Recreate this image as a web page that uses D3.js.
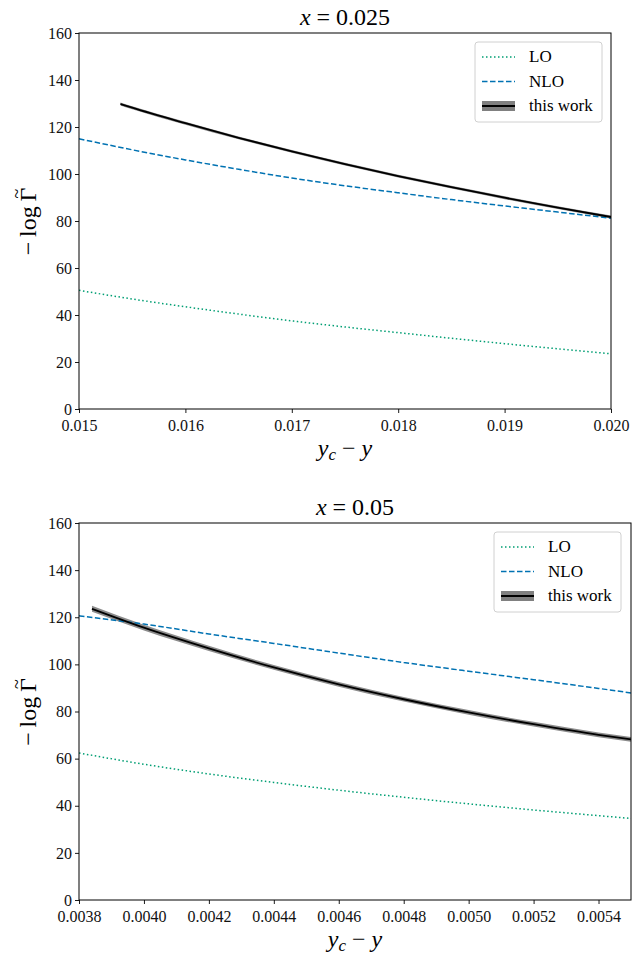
<!DOCTYPE html>
<html><head><meta charset="utf-8">
<script src="https://cdn.jsdelivr.net/npm/d3@7"></script>
<style>body{margin:0;background:#fff} svg text{font-family:"Liberation Serif" !important;}</style>
</head><body><svg id="c" width="632" height="954"></svg>
<script>
// ---- data ----
const titles = ["0.025", "0.05"];
const yTicks = [0, 20, 40, 60, 80, 100, 120, 140, 160];
const xTicksTop = [0.015, 0.016, 0.017, 0.018, 0.019, 0.020];
const xTicksBot = [0.0038, 0.0040, 0.0042, 0.0044, 0.0046, 0.0048, 0.0050, 0.0052, 0.0054];

const topX = [0.015, 0.0155, 0.016, 0.0165, 0.017, 0.0175, 0.018, 0.0185, 0.019, 0.0195, 0.020];
const topLO = [50.5, 46.8, 43.5, 40.4, 37.5, 34.9, 32.5, 30.1, 27.8, 25.6, 23.5];
const topNLO = [115, 110.3, 106, 102, 98.3, 95, 92, 89.1, 86.4, 83.8, 81.2];
const topWorkX = [0.01539, 0.0155, 0.016, 0.0165, 0.017, 0.0175, 0.018, 0.0185, 0.019, 0.0195, 0.020];
const topWork = [129.8, 128.2, 121.6, 115.4, 109.6, 104.2, 99.1, 94.4, 89.9, 85.7, 81.7];
const topWorkErr = [0.6, 0.6, 0.6, 0.6, 0.6, 0.6, 0.6, 0.6, 0.6, 0.6, 0.6];

const botX = [0.0038, 0.0040, 0.0042, 0.0044, 0.0046, 0.0048, 0.0050, 0.0052, 0.0054, 0.0055];
const botLO = [62.4, 57.6, 53.5, 49.9, 46.6, 43.6, 40.8, 38.2, 35.8, 34.6];
const botNLO = [120.6, 117.1, 112.9, 108.9, 104.8, 100.8, 97.1, 93.5, 89.8, 87.9];
const botWorkX = [0.00384, 0.0040, 0.0042, 0.0044, 0.0046, 0.0048, 0.0050, 0.0052, 0.0054, 0.0055];
const botWork = [123.6, 115.6, 106.8, 98.7, 91.5, 85.2, 79.6, 74.6, 70.1, 68.2];
const botWorkErr = [1.3, 1.2, 1.1, 1.0, 1.0, 1.0, 1.0, 1.0, 1.0, 1.0];

const seriesNames = ["LO", "NLO", "this work"];
const colLO = "#009E73", colNLO = "#0072B2";
const FONT = "Liberation Serif";

const svg = d3.select("#c");

function panel(cfg) {
  const g = svg.append("g").style("font-family", FONT);
  const x = d3.scaleLinear().domain(cfg.xDomain).range([cfg.left, cfg.right]);
  const y = d3.scaleLinear().domain([0, 160]).range([cfg.bottom, cfg.top]);
  const line = (xs) => d3.line().x((d, i) => x(xs[i])).y(d => y(d)).curve(d3.curveMonotoneX);

  g.append("defs").append("clipPath").attr("id", "clip" + cfg.id)
    .append("rect").attr("x", cfg.left).attr("y", cfg.top)
    .attr("width", cfg.right - cfg.left).attr("height", cfg.bottom - cfg.top);
  const pg = g.append("g").attr("clip-path", `url(#clip${cfg.id})`);

  const area = d3.area().x((d, i) => x(cfg.workX[i]))
    .y0((d, i) => y(d - cfg.err[i])).y1((d, i) => y(d + cfg.err[i])).curve(d3.curveMonotoneX);
  pg.append("path").datum(cfg.work).attr("d", area).attr("fill", "#808080").attr("opacity", 0.9);

  pg.append("path").datum(cfg.lo).attr("d", line(cfg.xs)).attr("fill", "none")
    .attr("stroke", colLO).attr("stroke-width", 1.5).attr("stroke-dasharray", "1.5,2.5");
  pg.append("path").datum(cfg.nlo).attr("d", line(cfg.xs)).attr("fill", "none")
    .attr("stroke", colNLO).attr("stroke-width", 1.5).attr("stroke-dasharray", "5.5,2.5");
  pg.append("path").datum(cfg.work).attr("d", line(cfg.workX)).attr("fill", "none")
    .attr("stroke", "#000").attr("stroke-width", 1.8);

  const ax = g.append("g").attr("transform", `translate(0,${cfg.bottom})`)
    .call(d3.axisBottom(x).tickValues(cfg.xTicks).tickFormat(cfg.fmt).tickSize(4).tickPadding(7));
  const ay = g.append("g").attr("transform", `translate(${cfg.left},0)`)
    .call(d3.axisLeft(y).tickValues(yTicks).tickFormat(d3.format("d")).tickSize(4).tickPadding(3));
  [ax, ay].forEach(a => {
    a.attr("font-family", null).style("font-family", FONT);
    a.select(".domain").remove();
    a.selectAll("line").attr("stroke", "#000").attr("stroke-width", 0.9);
    a.selectAll("text").attr("font-size", 16).attr("fill", "#111");
  });
  g.append("rect").attr("x", cfg.left).attr("y", cfg.top)
    .attr("width", cfg.right - cfg.left).attr("height", cfg.bottom - cfg.top)
    .attr("fill", "none").attr("stroke", "#000").attr("stroke-width", 1);

  const t = g.append("text").attr("x", (cfg.left + cfg.right) / 2).attr("y", cfg.top - 8)
    .attr("text-anchor", "middle").attr("font-size", 24);
  t.append("tspan").attr("font-style", "italic").text("x");
  t.append("tspan").text("\u2005=\u2005" + cfg.title);

  const xl = g.append("text").attr("x", (cfg.left + cfg.right) / 2).attr("y", cfg.bottom + 47)
    .attr("text-anchor", "middle").attr("font-size", 24);
  xl.append("tspan").attr("font-style", "italic").text("y");
  xl.append("tspan").attr("font-style", "italic").attr("font-size", 17).attr("dy", 4).text("c");
  xl.append("tspan").attr("dy", -4).text("\u2005−\u2005");
  xl.append("tspan").attr("font-style", "italic").text("y");

  const yl = g.append("text")
    .attr("transform", `translate(${cfg.left - 43},${(cfg.top + cfg.bottom) / 2}) rotate(-90)`)
    .attr("text-anchor", "middle").attr("font-size", 24);
  yl.append("tspan").text("−\u2009log\u2009Γ");
  yl.append("tspan").attr("dx", -11).attr("dy", -13).attr("font-size", 18).text("~");
  yl.append("tspan").attr("dy", 13).attr("font-size", 24).text("\u200a");

  const lg = g.append("g").attr("transform", `translate(${cfg.legX},${cfg.legY})`);
  lg.append("rect").attr("x", 0).attr("y", 0).attr("width", 127).attr("height", 80)
    .attr("rx", 3).attr("fill", "#fff").attr("fill-opacity", 0.8)
    .attr("stroke", "#d0d0d0").attr("stroke-width", 1);
  seriesNames.forEach((name, i) => {
    const yy = 15 + i * 24.5;
    if (i === 0) lg.append("line").attr("x1", 7).attr("x2", 40).attr("y1", yy).attr("y2", yy)
      .attr("stroke", colLO).attr("stroke-width", 1.5).attr("stroke-dasharray", "1.5,2.5");
    if (i === 1) lg.append("line").attr("x1", 7).attr("x2", 40).attr("y1", yy).attr("y2", yy)
      .attr("stroke", colNLO).attr("stroke-width", 1.5).attr("stroke-dasharray", "5.5,2.5");
    if (i === 2) {
      lg.append("rect").attr("x", 7).attr("y", yy - 5).attr("width", 33).attr("height", 10).attr("fill", "#808080");
      lg.append("line").attr("x1", 7).attr("x2", 40).attr("y1", yy).attr("y2", yy)
        .attr("stroke", "#000").attr("stroke-width", 1.8);
    }
    lg.append("text").attr("x", 54).attr("y", yy + 5).attr("font-size", 17).text(name);
  });
}

panel({id: 1, title: titles[0], xDomain: [0.015, 0.020], left: 79, right: 611, top: 33, bottom: 409,
  xTicks: xTicksTop, fmt: d3.format(".3f"), xs: topX, lo: topLO, nlo: topNLO,
  workX: topWorkX, work: topWork, err: topWorkErr, legX: 475, legY: 42});
panel({id: 2, title: titles[1], xDomain: [0.0038, 0.0055], left: 79, right: 631, top: 523, bottom: 900,
  xTicks: xTicksBot, fmt: d3.format(".4f"), xs: botX, lo: botLO, nlo: botNLO,
  workX: botWorkX, work: botWork, err: botWorkErr, legX: 494, legY: 532});
</script></body></html>
